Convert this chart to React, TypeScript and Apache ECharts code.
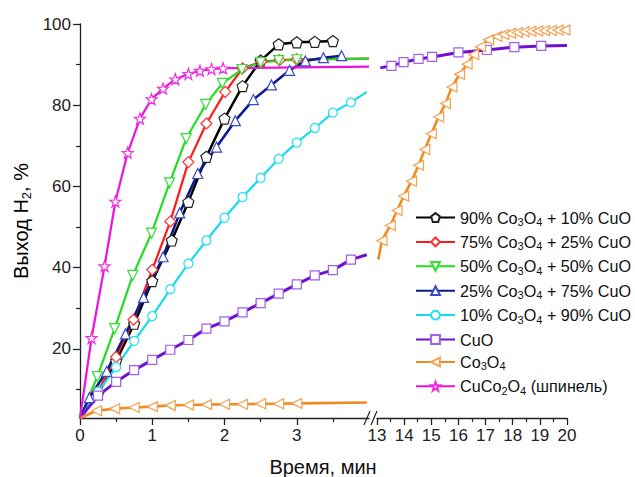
import React, { useEffect, useRef } from 'react';
import * as echarts from 'echarts';

const FONT = '"Liberation Sans", Arial, Helvetica, sans-serif';

// ---- data (time, min ; H2 yield, %) ----
const t90 = [0, 0.25, 0.5, 0.75, 1.0, 1.27, 1.5, 1.75, 2.0, 2.25, 2.5, 2.75, 3.0, 3.25, 3.5];
const v90 = [3, 9, 17, 26.2, 36.7, 46.7, 56.2, 67.3, 76.7, 84.7, 91, 95.0, 95.5, 95.6, 95.8];

const t75 = [0, 0.25, 0.5, 0.74, 1.0, 1.25, 1.5, 1.75, 2.01, 2.25, 2.51, 2.76, 3.0, 4.0];
const v75 = [3, 9.5, 18, 27.2, 39.5, 51.4, 66.0, 75.5, 83.3, 89.1, 90.7, 91.1, 91.3, 91.5];

const t50 = [0, 0.24, 0.48, 0.73, 0.99, 1.24, 1.47, 1.74, 1.97, 2.24, 2.5, 2.75, 3.0, 4.0];
const v50 = [3, 13.2, 25.0, 38.1, 48.5, 60.9, 71.8, 80.2, 85.4, 88.8, 90.5, 91.0, 91.2, 91.5];

const t25 = [0, 0.13, 0.37, 0.63, 0.88, 1.15, 1.38, 1.63, 1.89, 2.15, 2.40, 2.65, 2.90, 3.12, 3.37, 3.62];
const v25 = [3, 8, 14.5, 23.7, 32.7, 42.7, 53.5, 63.2, 69.7, 76.2, 81.4, 85.0, 88.6, 90.9, 91.7, 92.2];

const t10 = [0, 0.25, 0.5, 0.75, 1.0, 1.25, 1.5, 1.75, 2.0, 2.25, 2.5, 2.75, 3.0, 3.25, 3.5, 3.75, 3.97];
const v10 = [3, 9.5, 15.5, 22.0, 28.1, 34.7, 41.0, 46.7, 52.3, 57.4, 62.1, 66.8, 70.8, 74.4, 78.2, 80.7, 83.3];

const tCuO = [0, 0.25, 0.5, 0.75, 1.0, 1.25, 1.5, 1.75, 2.0, 2.25, 2.5, 2.75, 3.0, 3.25, 3.5, 3.75, 3.97];
const vCuO = [3, 8.5, 11.9, 14.8, 17.3, 19.8, 22.2, 25.0, 26.8, 29.0, 31.3, 33.6, 35.9, 38.1, 39.4, 42.0, 43.2];
const tCuOR = [13.12, 13.53, 13.98, 14.53, 15.03, 16.0, 17.05, 18.06, 19.05, 20];
const vCuOR = [89.2, 89.7, 90.6, 91.4, 91.9, 93.0, 93.6, 94.3, 94.6, 94.7];

const tCo = [0, 0.23, 0.48, 0.75, 1.0, 1.25, 1.5, 1.75, 2.0, 2.25, 2.5, 2.75, 3.0, 3.97];
const vCo = [3, 4.8, 5.3, 5.6, 5.8, 6.1, 6.2, 6.3, 6.4, 6.4, 6.5, 6.5, 6.6, 6.8];
const tCoR = [13.05, 13.18, 13.49, 13.74, 13.98, 14.27, 14.53, 14.76, 15.0, 15.27, 15.52, 15.76, 16.04, 16.32,
  16.56, 16.81, 17.11, 17.42, 17.67, 17.92, 18.17, 18.42, 18.67, 18.92, 19.17, 19.42, 19.67, 19.92];
const vCoR = [42.0, 46.7, 50.4, 54.1, 57.6, 61.3, 65.2, 69.1, 73.0, 77.1, 80.4, 84.5, 87.6, 90.1,
  92.5, 94.4, 96.1, 96.9, 97.4, 97.7, 97.9, 98.1, 98.2, 98.3, 98.4, 98.4, 98.5, 98.5];

const tSp = [0, 0.16, 0.34, 0.49, 0.66, 0.83, 0.99, 1.15, 1.32, 1.5, 1.66, 1.82, 1.98, 4.0];
const vSp = [3, 22.7, 40.4, 56.3, 68.3, 76.7, 81.5, 84.1, 86.4, 87.7, 88.5, 88.9, 89.1, 89.5];

const names = [
  '90% Co3O4 + 10% CuO',
  '75% Co3O4 + 25% CuO',
  '50% Co3O4 + 50% CuO',
  '25% Co3O4 + 75% CuO',
  '10% Co3O4 + 90% CuO',
  'CuO',
  'Co3O4',
  'CuCo2O4 (шпинель)',
];

const yLabelTicks = [20, 40, 60, 80, 100];
const yMinorTicks = [10, 30, 50, 70, 90];
const xLeftTicks = [0, 1, 2, 3];
const xLeftMinor = [0.5, 1.5, 2.5, 3.5];
const xRightMinor = [13.5, 14.5, 15.5, 16.5, 17.5, 18.5, 19.5];

// ---- symbols ----
const PENTAGON = 'path://M0,-100L95.1,-30.9L58.8,80.9L-58.8,80.9L-95.1,-30.9Z';
const STAR = 'path://M0,-100L23.5,-32.4L95.1,-30.9L38,12.4L58.8,80.9L0,40L-58.8,80.9L-38,12.4L-95.1,-30.9L-23.5,-32.4Z';
const DOWN_TRI = 'path://M0,0L100,0L50,87Z';
const LEFT_TRI = 'path://M0,50L87,0L87,100Z';

function pts(t: number[], v: number[], openEnd: boolean) {
  return t.map((x, i) => {
    const item: any = { value: [x, v[i]] };
    if (i === 0 || (openEnd && i === t.length - 1)) item.symbol = 'none';
    return item;
  });
}

function richName(n: string) {
  return '{a|' + n.replace(/([A-Za-z])(\d)/g, '$1}{s|$2}{a|') + '}';
}

export default function App() {
  const ref = useRef<HTMLDivElement>(null);
  useEffect(() => {
    if (!ref.current) return;
    const chart = echarts.init(ref.current, undefined, { renderer: 'svg' });

    const mk = (name: string, t: number[], v: number[], openEnd: boolean, symbol: string, size: number,
      line: string, mark: string, lw: number, grid: number) => ({
      type: 'line',
      name,
      xAxisIndex: grid === 0 ? 0 : 2,
      yAxisIndex: grid === 0 ? 0 : 2,
      data: pts(t, v, openEnd),
      symbol,
      symbolSize: size,
      showAllSymbol: true,
      silent: true,
      clip: true,
      lineStyle: { color: line, width: lw },
      itemStyle: { color: '#ffffff', borderColor: mark, borderWidth: 1.2 },
      emphasis: { disabled: true },
    });

    const series = [
      mk(names[0], t90, v90, false, PENTAGON, 11, '#000000', '#222222', 2.5, 0),
      mk(names[1], t75, v75, true, 'diamond', 11, '#ff1a1a', '#ff3030', 2.2, 0),
      mk(names[2], t50, v50, true, DOWN_TRI, 10, '#22dd22', '#33dd33', 2.2, 0),
      mk(names[3], t25, v25, false, 'triangle', 10, '#0b1a8c', '#3a4ac8', 2.6, 0),
      mk(names[4], t10, v10, true, 'circle', 9, '#18dcee', '#22e0f0', 2.2, 0),
      mk(names[5], tCuO, vCuO, true, 'rect', 9, '#7010d0', '#a060e8', 3, 0),
      mk(names[5], tCuOR, vCuOR, true, 'rect', 9, '#7010d0', '#a060e8', 3, 1),
      mk(names[6], tCo, vCo, true, LEFT_TRI, 10, '#f08a22', '#f5a050', 2.6, 0),
      mk(names[6], tCoR, vCoR, false, LEFT_TRI, 10, '#f08a22', '#f5a050', 2.6, 1),
      mk(names[7], tSp, vSp, true, STAR, 11, '#ee11dd', '#f030e0', 2.2, 0),
    ];

    const axisColor = '#222222';
    const labelStyle = { fontFamily: FONT, fontSize: 17, color: '#222222' };
    const rich = {
      a: { fontFamily: FONT, fontSize: 16.2, lineHeight: 20, color: '#111111' },
      s: { fontFamily: FONT, fontSize: 11, lineHeight: 8, verticalAlign: 'bottom', color: '#111111' },
    };
    const richBig = {
      a: { fontFamily: FONT, fontSize: 20, lineHeight: 24, color: '#111111' },
      s: { fontFamily: FONT, fontSize: 13, lineHeight: 10, verticalAlign: 'bottom', color: '#111111' },
    };

    chart.setOption({
      animation: false,
      backgroundColor: '#ffffff',
      grid: [
        { left: 80, top: 24, width: 289, height: 394, outerBoundsMode: 'none' },
        { left: 377, top: 24, width: 190, height: 394, outerBoundsMode: 'none' },
      ],
      xAxis: [
        {
          gridIndex: 0, type: 'value', min: 0, max: 4, position: 'bottom',
          axisLine: { show: true, onZero: false, lineStyle: { color: axisColor, width: 1.3 } },
          axisTick: { show: true, customValues: xLeftTicks, length: 7, lineStyle: { color: axisColor, width: 1.3 } },
          axisLabel: { show: true, customValues: xLeftTicks, margin: 9, ...labelStyle },
          splitLine: { show: false },
        },
        {
          gridIndex: 0, type: 'value', min: 0, max: 4, position: 'bottom',
          axisLine: { show: false, onZero: false },
          axisTick: { show: true, customValues: xLeftMinor, length: 4, lineStyle: { color: axisColor, width: 1.2 } },
          axisLabel: { show: false },
          splitLine: { show: false },
        },
        {
          gridIndex: 1, type: 'value', min: 13, max: 20, interval: 1, position: 'bottom',
          axisLine: { show: true, onZero: false, lineStyle: { color: axisColor, width: 1.3 } },
          axisTick: { show: true, length: 7, lineStyle: { color: axisColor, width: 1.3 } },
          axisLabel: { show: true, margin: 9, ...labelStyle },
          splitLine: { show: false },
        },
        {
          gridIndex: 1, type: 'value', min: 13, max: 20, position: 'bottom',
          axisLine: { show: false, onZero: false },
          axisTick: { show: true, customValues: xRightMinor, length: 4, lineStyle: { color: axisColor, width: 1.2 } },
          axisLabel: { show: false },
          splitLine: { show: false },
        },
      ],
      yAxis: [
        {
          gridIndex: 0, type: 'value', min: 3, max: 100, position: 'left',
          axisLine: { show: true, onZero: false, lineStyle: { color: axisColor, width: 1.3 } },
          axisTick: { show: true, customValues: yLabelTicks, length: 7, lineStyle: { color: axisColor, width: 1.3 } },
          axisLabel: { show: true, customValues: yLabelTicks, margin: 9, ...labelStyle },
          splitLine: { show: false },
        },
        {
          gridIndex: 0, type: 'value', min: 3, max: 100, position: 'left', offset: 0,
          axisLine: { show: false, onZero: false },
          axisTick: { show: true, customValues: yMinorTicks, length: 4, lineStyle: { color: axisColor, width: 1.2 } },
          axisLabel: { show: false },
          splitLine: { show: false },
        },
        {
          gridIndex: 1, type: 'value', min: 3, max: 100, show: false,
        },
      ],
      legend: {
        data: names,
        orient: 'vertical',
        left: 415,
        top: 209.5,
        padding: 0,
        itemWidth: 39,
        itemHeight: 11,
        itemGap: 6.4,
        selectedMode: false,
        formatter: (n: string) => richName(n),
        textStyle: { fontFamily: FONT, fontSize: 16.2, color: '#111111', rich },
      },
      graphic: [
        {
          type: 'text', x: 21, y: 221, rotation: Math.PI / 2,
          style: { text: '{a|Выход H}{s|2}{a|, %}', rich: richBig, align: 'center', verticalAlign: 'middle' },
        },
        {
          type: 'text', x: 323, y: 467,
          style: { text: 'Время, мин', fontFamily: FONT, fontSize: 20, fill: '#111111', align: 'center', verticalAlign: 'middle' },
        },
        { type: 'line', shape: { x1: 364, y1: 425, x2: 370, y2: 411 }, style: { stroke: axisColor, lineWidth: 1.2 }, z: 100 },
        { type: 'line', shape: { x1: 371, y1: 425, x2: 377, y2: 411 }, style: { stroke: axisColor, lineWidth: 1.2 }, z: 100 },
      ],
      series,
    });
    return () => chart.dispose();
  }, []);
  return <div ref={ref} style={{ position: 'absolute', left: 0, top: 0, width: 635, height: 477 }} />;
}
